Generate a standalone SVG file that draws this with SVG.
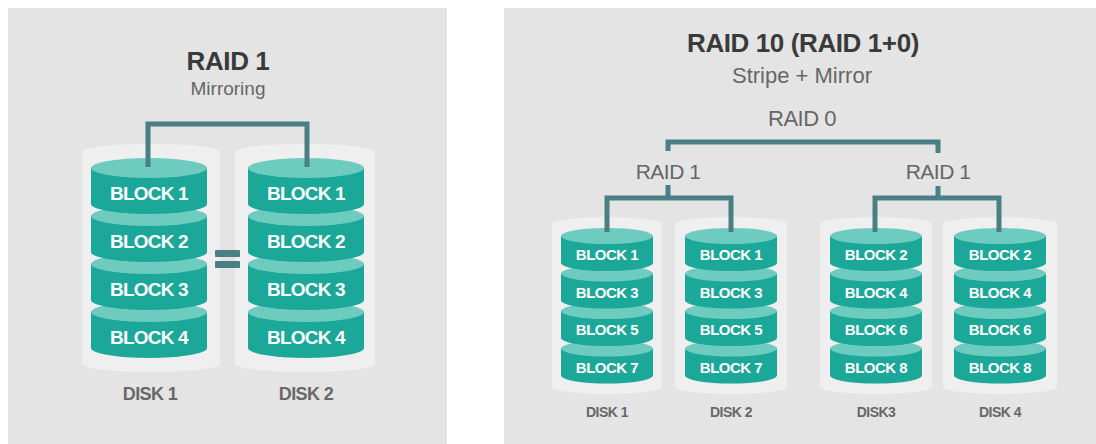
<svg xmlns="http://www.w3.org/2000/svg" width="1096" height="444" viewBox="0 0 1096 444">
<style>
.panel{fill:#e4e4e4}
.dbg{fill:#efefef}
.body{fill:#1ba899}
.top{fill:#6ecbbf}
.bt{font-family:"Liberation Sans",Arial,sans-serif;font-weight:bold;fill:#ffffff;text-anchor:middle}
.big{font-size:19px;letter-spacing:-0.8px}
.sm{font-size:15px;letter-spacing:-0.5px}
.title{font-family:"Liberation Sans",Arial,sans-serif;font-weight:bold;fill:#3a3a3a;text-anchor:middle;font-size:26px;letter-spacing:-0.4px}
.sub{font-family:"Liberation Sans",Arial,sans-serif;fill:#666666;text-anchor:middle}
.disk{font-family:"Liberation Sans",Arial,sans-serif;font-weight:bold;fill:#686868;text-anchor:middle}
.conn{fill:none;stroke:#4a7f85;stroke-width:5}
</style>
<rect width="1096" height="444" fill="#ffffff"/>
<rect class="panel" x="8" y="8" width="439" height="436"/>
<rect class="panel" x="504" y="8" width="592" height="436"/>

<g id="raid1-title">
<text class="title" x="228" y="70" font-size="25">RAID 1</text>
<text class="sub" x="228" y="95" font-size="19">Mirroring</text>
</g>

<g id="r1-disk1">
<path class="dbg" d="M82,152 A69,8 0 0 1 220,152 V364 A69,8 0 0 1 82,364 Z"/>
<path class="body" d="M91,312 V348 A58,10 0 0 0 207,348 V312 Z"/><ellipse class="top" cx="149" cy="312" rx="58" ry="10"/><text class="bt big" x="149" y="344">BLOCK 4</text>
<path class="body" d="M91,264 V300 A58,10 0 0 0 207,300 V264 Z"/><ellipse class="top" cx="149" cy="264" rx="58" ry="10"/><text class="bt big" x="149" y="296">BLOCK 3</text>
<path class="body" d="M91,216 V252 A58,10 0 0 0 207,252 V216 Z"/><ellipse class="top" cx="149" cy="216" rx="58" ry="10"/><text class="bt big" x="149" y="248">BLOCK 2</text>
<path class="body" d="M91,168 V204 A58,10 0 0 0 207,204 V168 Z"/><ellipse class="top" cx="149" cy="168" rx="58" ry="10"/><text class="bt big" x="149" y="200">BLOCK 1</text>
<text class="disk" x="150" y="400" font-size="18" letter-spacing="-0.6">DISK 1</text>
</g>

<g id="r1-disk2">
<path class="dbg" d="M235,152 A70,8 0 0 1 375,152 V364 A70,8 0 0 1 235,364 Z"/>
<path class="body" d="M248,312 V348 A58,10 0 0 0 364,348 V312 Z"/><ellipse class="top" cx="306" cy="312" rx="58" ry="10"/><text class="bt big" x="306" y="344">BLOCK 4</text>
<path class="body" d="M248,264 V300 A58,10 0 0 0 364,300 V264 Z"/><ellipse class="top" cx="306" cy="264" rx="58" ry="10"/><text class="bt big" x="306" y="296">BLOCK 3</text>
<path class="body" d="M248,216 V252 A58,10 0 0 0 364,252 V216 Z"/><ellipse class="top" cx="306" cy="216" rx="58" ry="10"/><text class="bt big" x="306" y="248">BLOCK 2</text>
<path class="body" d="M248,168 V204 A58,10 0 0 0 364,204 V168 Z"/><ellipse class="top" cx="306" cy="168" rx="58" ry="10"/><text class="bt big" x="306" y="200">BLOCK 1</text>
<text class="disk" x="306" y="400" font-size="18" letter-spacing="-0.6">DISK 2</text>
</g>

<g id="equals">
<rect x="215" y="250" width="25" height="7" rx="1" fill="#4a7f85"/>
<rect x="215" y="261" width="25" height="7" rx="1" fill="#4a7f85"/>
</g>

<g id="raid10-title">
<text class="title" x="803" y="52">RAID 10 (RAID 1+0)</text>
<text class="sub" x="802" y="83" font-size="22">Stripe + Mirror</text>
</g>
<g id="label-raid0"><text class="sub" x="802" y="126" font-size="22" letter-spacing="-0.5">RAID 0</text></g>
<g id="label-raid1-left"><text class="sub" x="668" y="179" font-size="21" letter-spacing="-0.5">RAID 1</text></g>
<g id="label-raid1-right"><text class="sub" x="938" y="179" font-size="21" letter-spacing="-0.5">RAID 1</text></g>

<g id="r10-disk1">
<path class="dbg" d="M552,224 A55,7 0 0 1 662,224 V387 A55,7 0 0 1 552,387 Z"/>
<path class="body" d="M561,348.5 V375.5 A46,8 0 0 0 653,375.5 V348.5 Z"/><ellipse class="top" cx="607" cy="348.5" rx="46" ry="8"/><text class="bt sm" x="607" y="372.5">BLOCK 7</text>
<path class="body" d="M561,311 V338 A46,8 0 0 0 653,338 V311 Z"/><ellipse class="top" cx="607" cy="311" rx="46" ry="8"/><text class="bt sm" x="607" y="335">BLOCK 5</text>
<path class="body" d="M561,273.5 V300.5 A46,8 0 0 0 653,300.5 V273.5 Z"/><ellipse class="top" cx="607" cy="273.5" rx="46" ry="8"/><text class="bt sm" x="607" y="297.5">BLOCK 3</text>
<path class="body" d="M561,236 V263 A46,8 0 0 0 653,263 V236 Z"/><ellipse class="top" cx="607" cy="236" rx="46" ry="8"/><text class="bt sm" x="607" y="260">BLOCK 1</text>
<text class="disk" x="607" y="417" font-size="14" letter-spacing="-0.5">DISK 1</text>
</g>

<g id="r10-disk2">
<path class="dbg" d="M675,224 A56,7 0 0 1 787,224 V387 A56,7 0 0 1 675,387 Z"/>
<path class="body" d="M685,348.5 V375.5 A46,8 0 0 0 777,375.5 V348.5 Z"/><ellipse class="top" cx="731" cy="348.5" rx="46" ry="8"/><text class="bt sm" x="731" y="372.5">BLOCK 7</text>
<path class="body" d="M685,311 V338 A46,8 0 0 0 777,338 V311 Z"/><ellipse class="top" cx="731" cy="311" rx="46" ry="8"/><text class="bt sm" x="731" y="335">BLOCK 5</text>
<path class="body" d="M685,273.5 V300.5 A46,8 0 0 0 777,300.5 V273.5 Z"/><ellipse class="top" cx="731" cy="273.5" rx="46" ry="8"/><text class="bt sm" x="731" y="297.5">BLOCK 3</text>
<path class="body" d="M685,236 V263 A46,8 0 0 0 777,263 V236 Z"/><ellipse class="top" cx="731" cy="236" rx="46" ry="8"/><text class="bt sm" x="731" y="260">BLOCK 1</text>
<text class="disk" x="731" y="417" font-size="14" letter-spacing="-0.5">DISK 2</text>
</g>

<g id="r10-disk3">
<path class="dbg" d="M820,224 A56,7 0 0 1 932,224 V387 A56,7 0 0 1 820,387 Z"/>
<path class="body" d="M830,348.5 V375.5 A46,8 0 0 0 922,375.5 V348.5 Z"/><ellipse class="top" cx="876" cy="348.5" rx="46" ry="8"/><text class="bt sm" x="876" y="372.5">BLOCK 8</text>
<path class="body" d="M830,311 V338 A46,8 0 0 0 922,338 V311 Z"/><ellipse class="top" cx="876" cy="311" rx="46" ry="8"/><text class="bt sm" x="876" y="335">BLOCK 6</text>
<path class="body" d="M830,273.5 V300.5 A46,8 0 0 0 922,300.5 V273.5 Z"/><ellipse class="top" cx="876" cy="273.5" rx="46" ry="8"/><text class="bt sm" x="876" y="297.5">BLOCK 4</text>
<path class="body" d="M830,236 V263 A46,8 0 0 0 922,263 V236 Z"/><ellipse class="top" cx="876" cy="236" rx="46" ry="8"/><text class="bt sm" x="876" y="260">BLOCK 2</text>
<text class="disk" x="876" y="417" font-size="14" letter-spacing="-0.5">DISK3</text>
</g>

<g id="r10-disk4">
<path class="dbg" d="M943,224 A57,7 0 0 1 1057,224 V387 A57,7 0 0 1 943,387 Z"/>
<path class="body" d="M954,348.5 V375.5 A46,8 0 0 0 1046,375.5 V348.5 Z"/><ellipse class="top" cx="1000" cy="348.5" rx="46" ry="8"/><text class="bt sm" x="1000" y="372.5">BLOCK 8</text>
<path class="body" d="M954,311 V338 A46,8 0 0 0 1046,338 V311 Z"/><ellipse class="top" cx="1000" cy="311" rx="46" ry="8"/><text class="bt sm" x="1000" y="335">BLOCK 6</text>
<path class="body" d="M954,273.5 V300.5 A46,8 0 0 0 1046,300.5 V273.5 Z"/><ellipse class="top" cx="1000" cy="273.5" rx="46" ry="8"/><text class="bt sm" x="1000" y="297.5">BLOCK 4</text>
<path class="body" d="M954,236 V263 A46,8 0 0 0 1046,263 V236 Z"/><ellipse class="top" cx="1000" cy="236" rx="46" ry="8"/><text class="bt sm" x="1000" y="260">BLOCK 2</text>
<text class="disk" x="1000" y="417" font-size="14" letter-spacing="-0.5">DISK 4</text>
</g>

<g id="connectors">
<path class="conn" d="M148,167 V124 H307 V167"/>
<path class="conn" d="M668,151 V142 H938 V153"/>
<path class="conn" d="M668,185 V198 M607,232 V198 H731 V232"/>
<path class="conn" d="M938,186 V198 M875,232 V198 H999 V232"/>
</g>
</svg>
